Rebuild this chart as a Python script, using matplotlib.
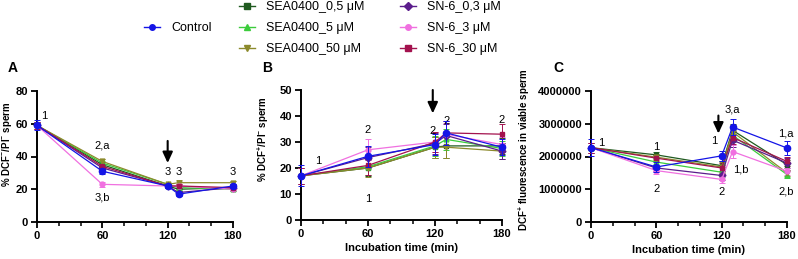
import matplotlib.pyplot as plt
from matplotlib.lines import Line2D

plt.rcParams['font.family'] = ['Liberation Sans', 'DejaVu Sans']
plt.rcParams['mathtext.fontset'] = 'custom'
plt.rcParams['mathtext.rm'] = 'Liberation Sans'
plt.rcParams['mathtext.bf'] = 'Liberation Sans:bold'

times = [0, 60, 120, 130, 180]
series = ["Control", "SEA0400_0,5 \u03bcM", "SEA0400_5 \u03bcM", "SEA0400_50 \u03bcM",
          "SN-6_0,3 \u03bcM", "SN-6_3 \u03bcM", "SN-6_30 \u03bcM"]
colors = ["#1414e6", "#1f5a1f", "#3ccc3c", "#8c8a2c", "#5b1d8c", "#f070e0", "#a3124e"]
markers = ["o", "s", "^", "v", "D", "o", "s"]

# panel A: % DCF-/PI- sperm
a_vals = [[59, 31, 22, 17, 22],
          [59, 35, 22, 20, 21],
          [59, 36, 23, 21, 20],
          [59, 37, 23, 24, 24],
          [59, 33, 22, 18, 21],
          [59, 23, 22, 22, 20],
          [59, 34, 22, 22, 21]]
a_err = [[3, 1.5, 1, 1, 1.5],
         [2, 1.5, 1, 1, 1],
         [2, 1.5, 1, 1, 1],
         [2, 1.5, 1, 1.5, 1],
         [2, 1.5, 1, 1, 1],
         [2, 1.5, 1, 1, 1],
         [2, 1.5, 1, 1, 1]]

# panel B: % DCF+/PI- sperm
b_vals = [[17, 24.5, 29, 33.5, 28],
          [17, 20, 28, 28.5, 28.5],
          [17, 20.5, 28.5, 31, 27.5],
          [17, 20, 28, 28, 26.5],
          [17, 24, 29.5, 32.5, 26.5],
          [17, 27, 30, 33, 29],
          [17, 21, 30, 33.5, 33]]
b_err = [[4, 4, 4, 4.5, 3],
         [3, 3, 4, 4.5, 3],
         [3, 3, 4, 4, 3],
         [3, 3.5, 4, 4, 3],
         [3, 4, 4, 4.5, 3],
         [3, 4, 4, 4.5, 3],
         [3, 3.5, 4, 4.5, 4]]

# panel C: DCF+ fluorescence in viable sperm
c_vals = [[2270000, 1680000, 2020000, 2900000, 2260000],
          [2270000, 2050000, 1720000, 2800000, 1750000],
          [2270000, 1830000, 1520000, 2650000, 1450000],
          [2270000, 1980000, 1680000, 2750000, 1500000],
          [2270000, 1650000, 1420000, 2500000, 1800000],
          [2270000, 1570000, 1300000, 2150000, 1550000],
          [2270000, 1950000, 1650000, 2580000, 1850000]]
c_err = [[250000, 150000, 150000, 250000, 200000],
         [150000, 100000, 150000, 200000, 150000],
         [150000, 100000, 150000, 200000, 100000],
         [150000, 100000, 150000, 200000, 100000],
         [150000, 100000, 150000, 200000, 150000],
         [150000, 100000, 100000, 200000, 100000],
         [150000, 100000, 150000, 200000, 150000]]

W, H = 798, 259
fig = plt.figure(figsize=(W / 100, H / 100), dpi=100)


def box(x0, x1, ytop, ybot):
    return [x0 / W, 1 - ybot / H, (x1 - x0) / W, (ybot - ytop) / H]


axA = fig.add_axes(box(37, 233, 91, 222))
axB = fig.add_axes(box(301, 502, 90, 220))
axC = fig.add_axes(box(591, 787, 91, 222))


def draw(ax, vals, errs):
    order = list(range(1, len(series))) + [0]
    for i in order:
        ms = 4.5 if i == 0 else 3.5
        ax.errorbar(times, vals[i], yerr=errs[i], color=colors[i], marker=markers[i],
                    ms=ms, lw=0.9, elinewidth=0.7, capsize=2, capthick=0.7,
                    clip_on=False, zorder=3 if i else 4)
    ax.set_xlim(0, 180)
    ax.set_xticks([0, 60, 120, 180])
    ax.set_xticks(range(0, 181, 20), minor=True)
    for s in ["top", "right"]:
        ax.spines[s].set_visible(False)
    for s in ["left", "bottom"]:
        ax.spines[s].set_linewidth(1.4)
    ax.tick_params(width=1.3, length=4.5, labelsize=8, pad=2)
    ax.tick_params(which="minor", width=1.1, length=2.8)


def bold_ticks(ax):
    for lb in ax.get_xticklabels() + ax.get_yticklabels():
        lb.set_fontweight("bold")


def arrow(ax, x, y0, y1):
    ax.annotate("", xy=(x, y1), xytext=(x, y0),
                arrowprops=dict(arrowstyle="-|>,head_width=0.3,head_length=0.65",
                                color="black", lw=1.5, mutation_scale=10,
                                shrinkA=0, shrinkB=0))


draw(axA, a_vals, a_err)
axA.set_ylim(0, 80)
axA.set_yticks([0, 20, 40, 60, 80])
bold_ticks(axA)
axA.set_ylabel(r"% DCF$^{\mathbf{-}}$/PI$^{\mathbf{-}}$ sperm", fontsize=7, fontweight="bold")
axA.yaxis.set_label_coords(-0.115, 0.59)
arrow(axA, 120, 49.5, 36)
for x, y, t in [(7, 65, "1"), (60, 47, "2,a"), (60, 15, "3,b"), (120, 30.5, "3"),
                (130, 30.5, "3"), (180, 30.5, "3")]:
    axA.text(x, y, t, fontsize=8, ha="center", va="center")

draw(axB, b_vals, b_err)
axB.set_ylim(0, 50)
axB.set_yticks([0, 10, 20, 30, 40, 50])
bold_ticks(axB)
axB.set_ylabel(r"% DCF$^{\mathbf{+}}$/PI$^{\mathbf{-}}$ sperm", fontsize=7, fontweight="bold")
axB.yaxis.set_label_coords(-0.15, 0.62)
axB.set_xlabel("Incubation time (min)", fontsize=8, fontweight="bold", labelpad=3)
arrow(axB, 118, 50, 41)
for x, y, t in [(15, 22.8, "1"), (60, 34.6, "2"), (60, 8, "1"), (118, 34.4, "2"),
                (130, 38.2, "2"), (180, 38.5, "2")]:
    axB.text(x, y, t, fontsize=8, ha="center", va="center")

draw(axC, c_vals, c_err)
axC.set_ylim(0, 4000000)
axC.set_yticks([0, 1000000, 2000000, 3000000, 4000000])
axC.set_yticklabels(["0", "1000000", "2000000", "3000000", "4000000"])
bold_ticks(axC)
axC.set_ylabel(r"DCF$^{\mathbf{+}}$ fluorescence in viable sperm", fontsize=7, fontweight="bold")
axC.yaxis.set_label_coords(-0.30, 0.55)
axC.set_xlabel("Incubation time (min)", fontsize=8, fontweight="bold", labelpad=3)
arrow(axC, 117, 3250000, 2700000)
for x, y, t in [(9, 2420000, "1"), (60, 2300000, "1"), (60, 1000000, "2"),
                (113, 2470000, "1"), (120, 920000, "2"), (130, 3450000, "3,a"),
                (138, 1590000, "1,b"), (179, 2690000, "1,a"), (179, 920000, "2,b")]:
    axC.text(x, y, t, fontsize=8, ha="center", va="center")

for x, lab in [(13, "A"), (267, "B"), (558, "C")]:
    fig.text(x / W, 1 - 68 / H, lab, fontsize=10, fontweight="bold", ha="center", va="center")


def handle(i):
    return Line2D([], [], color=colors[i], marker=markers[i], ms=4, lw=1)


leg_kw = dict(frameon=False, fontsize=9, handlelength=1.3, handletextpad=0.85,
              labelspacing=0.72, borderpad=0, borderaxespad=0)
fig.legend([handle(0)], [series[0]], loc="center left",
           bbox_to_anchor=(144 / W, 1 - 28 / H), **leg_kw)
fig.legend([handle(i) for i in [1, 2, 3]], series[1:4], loc="center left",
           bbox_to_anchor=(239 / W, 1 - 28 / H), **leg_kw)
fig.legend([handle(i) for i in [4, 5, 6]], series[4:7], loc="center left",
           bbox_to_anchor=(400 / W, 1 - 28 / H), **leg_kw)

fig.savefig("out.png", dpi=100)
